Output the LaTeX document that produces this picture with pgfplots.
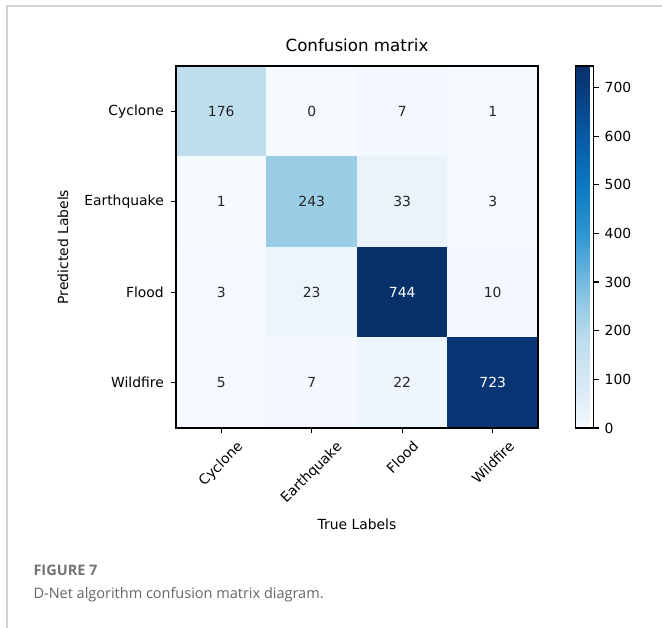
\documentclass[border=0pt]{standalone}
\usepackage{fontspec}
\setmainfont{DejaVu Sans}
\newfontfamily\capfont{Open Sans}
\usepackage{pgfplots}
\usepackage{pgfplotstable}
\pgfplotsset{compat=1.18}
\pgfplotsset{
  /pgf/number format/assume math mode=true,
  % a saturated blue sequential map
  colormap={cmblues}{
    rgb255(0)=(245,250,255) rgb255(60)=(225,237,248) rgb255(176)=(190,222,238)
    rgb255(243)=(155,205,230) rgb255(300)=(115,186,224) rgb255(400)=(45,150,210)
    rgb255(500)=(12,120,193) rgb255(600)=(8,90,165) rgb255(700)=(8,58,124)
    rgb255(744)=(8,48,107)},
}

% confusion matrix: col = true label, row = predicted label
\pgfplotstableread{
col row v
0 0 176
1 0 0
2 0 7
3 0 1
0 1 1
1 1 243
2 1 33
3 1 3
0 2 3
1 2 23
2 2 744
3 2 10
0 3 5
1 3 7
2 3 22
3 3 723
}\cmtable

\newcommand{\tickfont}{\fontsize{13.9}{16}\selectfont}

\begin{document}
\begin{tikzpicture}
\useasboundingbox (0pt,0pt) rectangle (662pt,-628pt);
\fill[white] (0pt,0pt) rectangle (662pt,-628pt);
% panel frame
\draw[line width=1.4pt, black!18] (7pt,-628pt) -- (7pt,-6pt) -- (662pt,-6pt);

\begin{axis}[
  at={(176pt,-428pt)}, anchor=south west,
  scale only axis, width=362pt, height=362pt,
  xmin=-0.5, xmax=3.5, ymin=-0.5, ymax=3.5,
  y dir=reverse,
  enlargelimits=false,
  axis on top,
  axis line style={line width=1.1pt, black},
  tick style={line width=1.1pt, black},
  tick align=outside, major tick length=5pt,
  xtick pos=bottom, ytick pos=left,
  xtick={0,1,2,3}, ytick={0,1,2,3},
  xticklabels={\rotatebox{45}{Cyclone},\rotatebox{45}{Earthquake},\rotatebox{45}{Flood},\rotatebox{45}{Wildfire}},
  yticklabels={Cyclone,Earthquake,Flood,Wildfire},
  tick label style={font=\tickfont},
  xticklabel style={anchor=north, font=\tickfont, inner sep=0pt, yshift=-7pt},
  yticklabel style={font=\tickfont, inner sep=0pt, xshift=-7pt},
  title={Confusion matrix},
  title style={at={(axis description cs:0.5,1.041)}, anchor=center, font=\fontsize{16.7}{19}\selectfont},
  xlabel={True Labels},
  xlabel style={at={(axis description cs:0.5,-0.266)}, anchor=center, font=\tickfont},
  ylabel={Predicted Labels},
  ylabel style={at={(axis description cs:-0.312,0.5)}, anchor=center, font=\tickfont},
  colormap name=cmblues,
  point meta min=0, point meta max=744,
  colorbar,
  colorbar style={
    width=18pt,
    at={(parent axis.north east)}, anchor=north west, xshift=29pt,
    axis on top,
    xtick=\empty,
    ytick={0,100,...,700},
    ytick pos=right, yticklabel pos=right,
    tick align=outside, major tick length=5pt,
    yticklabel style={font=\tickfont, inner sep=0pt, xshift=6pt},
    axis line style={line width=1.1pt, black},
    tick style={line width=1.1pt, black},
  },
]
\addplot[matrix plot*, mesh/cols=4, mesh/rows=4, point meta=explicit]
  table[x=col, y=row, meta=v] {\cmtable};
% cell counts: dark text on light cells
\addplot[only marks, mark=none, point meta=explicit,
  restrict expr to domain={\thisrow{v}}{0:372},
  nodes near coords, nodes near coords align=center,
  every node near coord/.append style={anchor=center, font=\tickfont, text=black!85}]
  table[x=col, y=row, meta=v] {\cmtable};
% cell counts: light text on dark cells
\addplot[only marks, mark=none, point meta=explicit,
  restrict expr to domain={\thisrow{v}}{372:1000},
  nodes near coords, nodes near coords align=center,
  every node near coord/.append style={anchor=center, font=\tickfont, text=white}]
  table[x=col, y=row, meta=v] {\cmtable};
\end{axis}

\node[anchor=west, text=black!55, font=\capfont\bfseries\fontsize{14.5}{17}\selectfont] at (30pt,-570pt) {FIGURE 7};
\node[anchor=west, text=black!60, font=\capfont\fontsize{14.5}{17}\selectfont] at (30pt,-595pt) {D-Net algorithm confusion matrix diagram.};
\end{tikzpicture}
\end{document}
